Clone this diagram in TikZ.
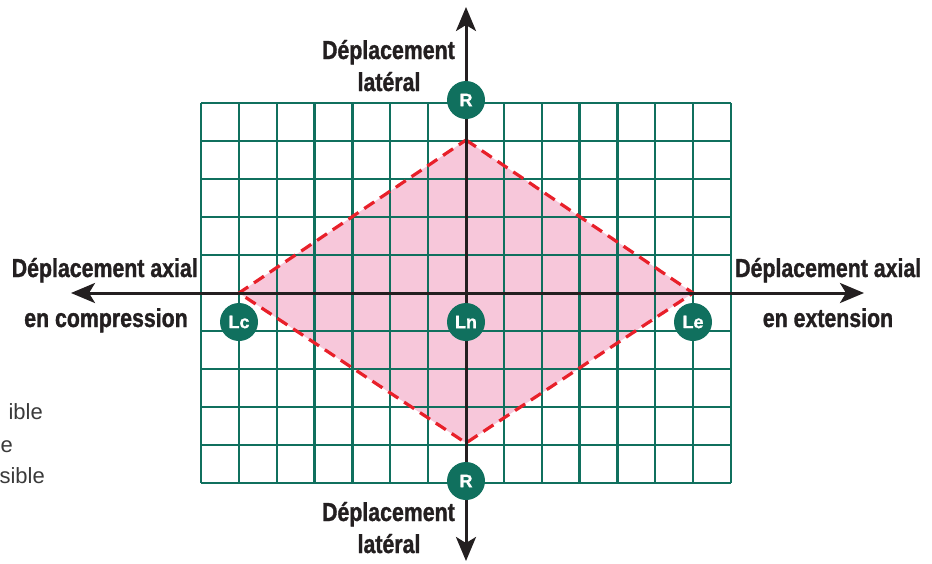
\documentclass[tikz,border=0pt]{standalone}
\usepackage{fontspec}
\setmainfont{Liberation Sans}[FakeStretch=0.82, BoldFeatures={FakeBold=1.2}]
\newfontfamily\plainsans{Liberation Sans}[BoldFeatures={FakeBold=1}]
\usetikzlibrary{arrows.meta}
\definecolor{gridgreen}{HTML}{10705E}
\definecolor{zonepink}{HTML}{F7C7DA}
\definecolor{zonered}{HTML}{E8202A}
\definecolor{axisblack}{HTML}{231F20}
\definecolor{legendgrey}{HTML}{3A3A3A}
\tikzset{
  gridline/.style={gridgreen, line width=2.4pt},
  axisline/.style={axisblack, line width=3pt, -{Stealth[length=24pt,width=20pt,inset=6pt]}},
  zone/.style={fill=zonepink, draw=none},
  zoneedge/.style={zonered, line width=3.2pt, dash pattern=on 12pt off 7pt},
  marker/.style={circle, fill=gridgreen, minimum size=38pt, inner sep=0pt, text=white, font=\plainsans\bfseries\fontsize{18}{18}\selectfont},
  axislabel/.style={text=axisblack, font=\bfseries\fontsize{26}{30}\selectfont, inner sep=0pt},
  legendtext/.style={text=legendgrey, font=\plainsans\fontsize{22}{22}\selectfont, inner sep=0pt, anchor=base east}
}
\begin{document}
\begin{tikzpicture}[x=1pt, y=-1pt]
\useasboundingbox (0,0) rectangle (932,563);
% zone
\coordinate (zt) at (466,140);
\coordinate (zr) at (693,293);
\coordinate (zb) at (466,443);
\coordinate (zl) at (239,293);
\fill[zone] (zt) -- (zr) -- (zb) -- (zl) -- cycle;
% grid
\foreach \i in {0,...,14} {
  \draw[gridline] ({201+\i*37.857},103) -- ({201+\i*37.857},483);
}
\foreach \j in {0,...,10} {
  \draw[gridline] (201,{103+\j*38}) -- (731,{103+\j*38});
}
\draw[zoneedge] (zt) -- (zr) -- (zb) -- (zl) -- cycle;
% axes
\coordinate (o) at (466,293);
\coordinate (top) at (466,7);
\coordinate (bot) at (466,561);
\coordinate (left) at (71,293);
\coordinate (right) at (864,293);
\draw[axisline] (o) -- (top);
\draw[axisline] (o) -- (bot);
\draw[axisline] (o) -- (left);
\draw[axisline] (o) -- (right);
% markers
\node[marker] (rt) at (466,100) {R};
\node[marker] (rb) at (466,481) {R};
\node[marker] (lc) at (239,322) {Lc};
\node[marker] (ln) at (466,322) {Ln};
\node[marker] (le) at (693,322) {Le};
% labels
\node[axislabel, anchor=base east] (lt1) at (455,59) {Déplacement};
\node[axislabel, anchor=base] (lt2) at (389,91) {latéral};
\node[axislabel, anchor=base east] (lb1) at (455,521) {Déplacement};
\node[axislabel, anchor=base] (lb2) at (389,553) {latéral};
\node[axislabel, anchor=base east] (la1) at (198,277) {Déplacement axial};
\node[axislabel, anchor=base] (la2) at (106,327) {en compression};
\node[axislabel, anchor=base west] (ra1) at (735,277) {Déplacement axial};
\node[axislabel, anchor=base] (ra2) at (828,327) {en extension};
% cut-off legend
\node[legendtext] (g1) at (43,419) {ible};
\node[legendtext] (g2) at (13,452) {e};
\node[legendtext] (g3) at (45,483) {sible};
\end{tikzpicture}
\end{document}
